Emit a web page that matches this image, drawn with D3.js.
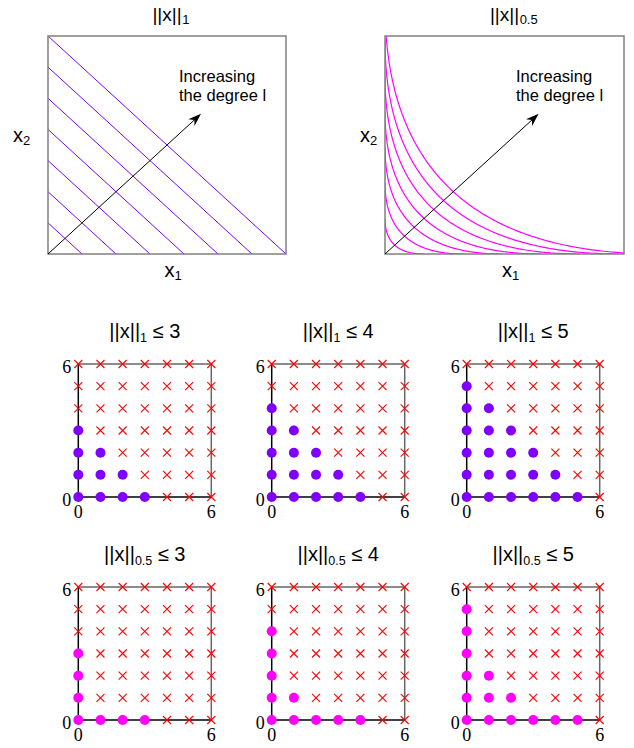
<!DOCTYPE html>
<html>
<head>
<meta charset="utf-8">
<script src="https://cdn.jsdelivr.net/npm/d3@7"></script>
<style>
  body { margin: 0; background: #fff; }
  svg { display: block; }
  .sans { font-family: "Liberation Sans", Arial, sans-serif; }
  .serif { font-family: "Liberation Serif", "DejaVu Serif", "Times New Roman", serif; }
</style>
</head>
<body>
<svg id="chart" width="634" height="748"></svg>
<script>
// ---------------- data ----------------
const contourDomain = [0, 7];
const l1Levels = [1, 2, 3, 4, 5, 6, 7];
const lHalfLevels = [1.14, 2.29, 3.43, 4.57, 5.71, 6.86, 8.0];
const arrowEnd = [4.5, 4.5];
const topTitles = [{ main: "||x||", sub: "1" }, { main: "||x||", sub: "0.5" }];
const annotationLines = ["Increasing", "the degree l"];

const gridValues = [0, 1, 2, 3, 4, 5, 6];
const gridTicks = [0, 6];
const panelNorms = ["1", "1", "1", "0.5", "0.5", "0.5"];
const panelBounds = [3, 4, 5, 3, 4, 5];
// number of points inside the ball in each column x = 0..6 (counting from y = 0)
const insideCounts = [
  [4, 3, 2, 1, 0, 0, 0],
  [5, 4, 3, 2, 1, 0, 0],
  [6, 5, 4, 3, 2, 1, 0],
  [4, 1, 1, 1, 0, 0, 0],
  [5, 2, 1, 1, 1, 0, 0],
  [6, 3, 2, 1, 1, 1, 0]
];

// ---------------- layout ----------------
const svg = d3.select("#chart");
const PURPLE = "#7f00ff", MAGENTA = "#ff00ff";

const topPanels = [
  { left: 48, right: 286, top: 36, bottom: 254, color: PURPLE, levels: l1Levels, kind: "l1",
    x2x: 13, textX: 179 },
  { left: 385, right: 624, top: 36, bottom: 254, color: MAGENTA, levels: lHalfLevels, kind: "lhalf",
    x2x: 360, textX: 516 }
];

topPanels.forEach((p, i) => {
  const x = d3.scaleLinear().domain(contourDomain).range([p.left, p.right]);
  const y = d3.scaleLinear().domain(contourDomain).range([p.bottom, p.top]);
  const g = svg.append("g");
  const clipId = "clip" + i;
  svg.append("clipPath").attr("id", clipId).append("rect")
    .attr("x", p.left).attr("y", p.top).attr("width", p.right - p.left).attr("height", p.bottom - p.top);

  const cg = g.append("g").attr("clip-path", `url(#${clipId})`);
  if (p.kind === "l1") {
    cg.selectAll("line.c").data(p.levels).join("line")
      .attr("x1", c => x(c)).attr("y1", y(0))
      .attr("x2", x(0)).attr("y2", c => y(c))
      .attr("stroke", p.color).attr("stroke-width", 1);
  } else {
    const us = d3.range(0, 1.0001, 0.005);
    const line = d3.line().x(d => x(d[0])).y(d => y(d[1]));
    cg.selectAll("path.c").data(p.levels).join("path")
      .attr("d", c => line(us.map(u => [c * u * u, c * (1 - u) * (1 - u)])))
      .attr("fill", "none").attr("stroke", p.color).attr("stroke-width", 1.2);
  }

  // box
  g.append("rect").attr("x", p.left).attr("y", p.top)
    .attr("width", p.right - p.left).attr("height", p.bottom - p.top)
    .attr("fill", "none").attr("stroke", "#808080").attr("stroke-width", 1.5);

  // arrow
  const x0 = x(0), y0 = y(0), x1 = x(arrowEnd[0]), y1 = y(arrowEnd[1]);
  const ang = Math.atan2(y1 - y0, x1 - x0);
  const L = 13, W = 4.5, N = 9;
  const pt = (a, b) => [x1 + a * Math.cos(ang) - b * Math.sin(ang), y1 + a * Math.sin(ang) + b * Math.cos(ang)];
  g.append("line").attr("x1", x0).attr("y1", y0).attr("x2", pt(-N, 0)[0]).attr("y2", pt(-N, 0)[1])
    .attr("stroke", "#000").attr("stroke-width", 1);
  g.append("path")
    .attr("d", "M" + [pt(0, 0), pt(-L, W), pt(-N, 0), pt(-L, -W)].map(d => d.join(",")).join("L") + "Z")
    .attr("fill", "#000");

  // annotation
  annotationLines.forEach((t, k) => {
    g.append("text").attr("class", "sans").attr("x", p.textX).attr("y", 81.5 + k * 19)
      .attr("font-size", 16.5).attr("fill", "#000").text(t);
  });

  // title: main text centered on box, subscript appended
  const cx = (p.left + p.right) / 2;
  const tt = g.append("text").attr("class", "sans").attr("x", cx).attr("y", 21)
    .attr("text-anchor", "middle").attr("font-size", 19).text(topTitles[i].main);
  const bb = tt.node().getBBox();
  g.append("text").attr("class", "sans").attr("x", bb.x + bb.width + 0.5).attr("y", 24)
    .attr("font-size", 13).text(topTitles[i].sub);

  // axis labels
  const xl = g.append("text").attr("class", "sans").attr("x", cx - 2.5).attr("y", 277).attr("font-size", 20);
  xl.append("tspan").text("x");
  xl.append("tspan").attr("font-size", 13).attr("dy", 3).text("1");
  const yl = g.append("text").attr("class", "sans").attr("x", p.x2x).attr("y", 142).attr("font-size", 20);
  yl.append("tspan").text("x");
  yl.append("tspan").attr("font-size", 13).attr("dy", 3).text("2");
});

// ---------------- grid panels ----------------
const gridLefts = [78.3, 271.7, 466.7];
const gridTops = [364, 587];
const gridSize = 133;

panelBounds.forEach((bound, i) => {
  const col = i % 3, row = Math.floor(i / 3);
  const left = gridLefts[col], top = gridTops[row];
  const x = d3.scaleLinear().domain([0, 6]).range([left, left + gridSize]);
  const y = d3.scaleLinear().domain([0, 6]).range([top + gridSize, top]);
  const color = panelNorms[i] === "1" ? PURPLE : MAGENTA;
  const g = svg.append("g");

  // title
  const t = g.append("text").attr("class", "sans").attr("x", left + gridSize / 2).attr("y", top - 26)
    .attr("text-anchor", "middle").attr("font-size", 20);
  t.append("tspan").text("||x||");
  t.append("tspan").attr("font-size", 12.5).attr("dy", 4).text(panelNorms[i]);
  t.append("tspan").attr("dy", -4).text(" \u2264 " + bound);

  // box: top/right gray, left/bottom black
  g.append("line").attr("x1", x(0)).attr("y1", y(6)).attr("x2", x(6)).attr("y2", y(6))
    .attr("stroke", "#666").attr("stroke-width", 1.5);
  g.append("line").attr("x1", x(6)).attr("y1", y(6)).attr("x2", x(6)).attr("y2", y(0))
    .attr("stroke", "#666").attr("stroke-width", 1.5);
  g.append("line").attr("x1", x(0)).attr("y1", y(0)).attr("x2", x(6)).attr("y2", y(0))
    .attr("stroke", "#000").attr("stroke-width", 1.5);
  g.append("line").attr("x1", x(0)).attr("y1", y(6)).attr("x2", x(0)).attr("y2", y(0))
    .attr("stroke", "#000").attr("stroke-width", 1.5);

  // ticks labels
  gridTicks.forEach(v => {
    g.append("text").attr("class", "serif").attr("x", x(0) - 7).attr("y", y(v) + 8.7)
      .attr("text-anchor", "end").attr("font-size", 18).text(v);
    g.append("text").attr("class", "serif").attr("x", x(v)).attr("y", y(0) + 21)
      .attr("text-anchor", "middle").attr("font-size", 18).text(v);
  });

  // points
  const pts = [];
  gridValues.forEach(gx => gridValues.forEach(gy => {
    pts.push({ gx, gy, inside: gy < insideCounts[i][gx] });
  }));
  g.selectAll("circle").data(pts.filter(d => d.inside)).join("circle")
    .attr("cx", d => x(d.gx)).attr("cy", d => y(d.gy)).attr("r", 5).attr("fill", color);
  const s = 4;
  g.selectAll("path.cross").data(pts.filter(d => !d.inside)).join("path")
    .attr("class", "cross")
    .attr("d", d => {
      const px = x(d.gx), py = y(d.gy);
      return `M${px - s},${py - s}L${px + s},${py + s}M${px - s},${py + s}L${px + s},${py - s}`;
    })
    .attr("stroke", "#ff0000").attr("stroke-width", 1.1).attr("fill", "none");
});
</script>
</body>
</html>
